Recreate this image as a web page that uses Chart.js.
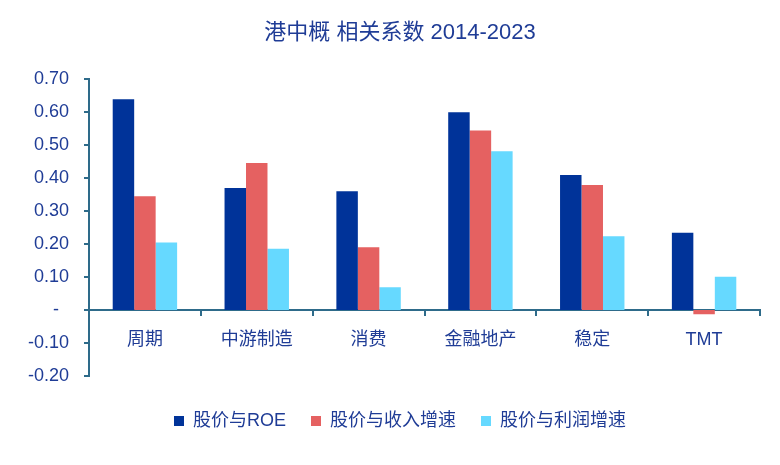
<!doctype html>
<html lang="zh">
  <head>
    <meta charset="utf-8">
    <title>港中概 相关系数 2014-2023</title>
    <style>
      body { margin: 0; background: #fff; }
      #wrap { width: 780px; height: 465px; }
    </style>
  </head>
  <body>
    <div id="wrap"><canvas id="chart" width="780" height="465"></canvas></div>
  </body>
</html>
<script src="https://cdn.jsdelivr.net/npm/chart.js"></script>
<script>
const categories = ['周期', '中游制造', '消费', '金融地产', '稳定', 'TMT'];
const seriesNames = ['股价与ROE', '股价与收入增速', '股价与利润增速'];
const roeCorr = [0.64, 0.37, 0.36, 0.60, 0.41, 0.234];
const revenueCorr = [0.345, 0.446, 0.19, 0.545, 0.379, -0.013];
const profitCorr = [0.205, 0.186, 0.069, 0.482, 0.224, 0.101];

const textColor = '#1f3c96';
const axisColor = '#2e6b8a';
const fontFamily = '"Liberation Sans", Arial, "Noto Sans CJK SC", sans-serif';

const el = document.querySelector('#chart');

new Chart(el, {
    type: 'bar',
    data: {
        labels: categories,
        datasets: [
            { label: seriesNames[0], data: roeCorr, backgroundColor: '#003399' },
            { label: seriesNames[1], data: revenueCorr, backgroundColor: '#e56161' },
            { label: seriesNames[2], data: profitCorr, backgroundColor: '#66d9ff' }
        ]
    },
    options: {
        responsive: false,
        animation: false,
        layout: { padding: { left: 20, right: 0, top: 0, bottom: 25 } },
        datasets: {
            bar: { categoryPercentage: 0.576, barPercentage: 1 }
        },
        scales: {
            x: {
                position: { y: 0 },
                offset: true,
                grid: { offset: true, drawOnChartArea: false, tickLength: 5, color: axisColor, lineWidth: 2 },
                border: { color: axisColor, width: 2 },
                ticks: { color: textColor, font: { size: 18, family: fontFamily }, padding: 14 }
            },
            y: {
                min: -0.2,
                max: 0.7,
                afterFit(scale) { scale.width = 69; },
                grid: { drawOnChartArea: false, tickLength: 5, color: axisColor, lineWidth: 2 },
                border: { color: axisColor, width: 2 },
                ticks: {
                    stepSize: 0.1,
                    color: textColor,
                    font: { size: 18, family: fontFamily },
                    padding: 15,
                    // zero is shown as a dash, sitting a bit left like in the excel original
                    callback: v => Math.abs(v) < 1e-9 ? '-  ' : v.toFixed(2)
                }
            },
            // empty right axis, just keeps a margin on the right
            yRight: {
                position: 'right',
                afterFit(scale) { scale.width = 20; },
                grid: { display: false },
                border: { display: false },
                ticks: { display: false }
            }
        },
        plugins: {
            title: {
                display: true,
                text: '港中概 相关系数 2014-2023',
                color: textColor,
                font: { size: 22, weight: 'normal', family: fontFamily },
                padding: { top: 20, bottom: 33 }
            },
            legend: {
                position: 'bottom',
                // empty legend title only adds room between axis and legend
                title: { display: true, text: ' ', font: { size: 1 }, padding: 5 },
                labels: {
                    boxWidth: 10,
                    boxHeight: 10,
                    padding: 25,
                    color: textColor,
                    font: { size: 18, family: fontFamily }
                }
            },
            tooltip: { enabled: false }
        }
    }
});
</script>
